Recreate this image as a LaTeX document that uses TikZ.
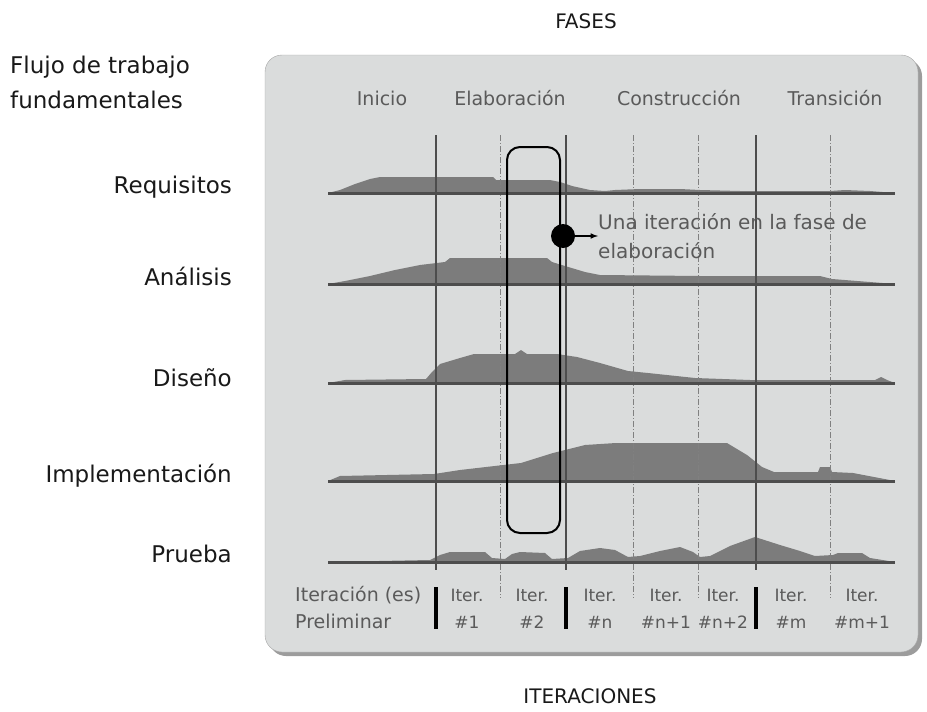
\documentclass[tikz,border=0pt]{standalone}
\usepackage{fontspec}
\setmainfont{DejaVu Sans}
\usepackage{xcolor}

\definecolor{panelgray}{HTML}{DADCDC}
\definecolor{shadowgray}{HTML}{9C9C9C}
\definecolor{hillgray}{HTML}{7C7C7C}
\definecolor{linegray}{HTML}{4D4D4D}
\definecolor{textgray}{HTML}{5A5A5A}

\begin{document}
\begin{tikzpicture}[x=1pt,y=-1pt,
  heading/.style={font=\fontsize{20}{24}\selectfont, text=black!90, inner sep=0pt, anchor=base},
  lbl/.style={font=\fontsize{23}{27}\selectfont, text=black!90, inner sep=0pt, anchor=base east},
  phase/.style={font=\fontsize{19}{23}\selectfont, text=textgray, inner sep=0pt, anchor=base},
  prelim/.style={font=\fontsize{19}{23}\selectfont, text=textgray, inner sep=0pt, anchor=base west},
  iterlbl/.style={font=\fontsize{17}{21}\selectfont, text=textgray, inner sep=0pt, anchor=base},
  note/.style={font=\fontsize{20}{29}\selectfont, text=textgray, inner sep=0pt, align=left},
  hill/.style={fill=hillgray},
  flow/.style={draw=linegray, line width=3pt},
  phaseline/.style={draw=linegray, line width=1.3pt},
  iterline/.style={draw=gray, line width=0.9pt, dash pattern=on 6pt off 2pt on 1pt off 2pt},
  bar/.style={line width=4pt}]
\useasboundingbox (0,0) rectangle (927,712);
% Panel
\fill[shadowgray, rounded corners=17pt] (269,59) rectangle (922,656);
\filldraw[fill=panelgray, draw=gray!70, rounded corners=17pt] (265,55) rectangle (918,652);
% Workflow hills
\fill[hill] (328,193) -- (340,190) -- (355,184) -- (370,179) -- (380,177) -- (493,177) -- (496,180)
  -- (550,180) -- (560,182) -- (572,186) -- (590,190) -- (605,191) -- (615,190) -- (640,189)
  -- (680,189) -- (700,190) -- (740,191) -- (830,191) -- (845,190) -- (870,191) -- (895,193) -- cycle;
\fill[hill] (328,284) -- (345,281) -- (370,276) -- (395,270) -- (420,265) -- (445,262) -- (450,258)
  -- (547,258) -- (552,262) -- (565,266) -- (585,272) -- (600,275) -- (700,276) -- (820,276)
  -- (832,279) -- (895,284) -- cycle;
\fill[hill] (328,383) -- (345,380) -- (426,379) -- (432,372) -- (440,364) -- (460,358) -- (474,354)
  -- (515,354) -- (521,350) -- (527,354) -- (557,354) -- (577,357) -- (600,363) -- (628,371)
  -- (648,373) -- (695,378) -- (750,380) -- (875,380) -- (881,377) -- (887,380) -- (895,383) -- cycle;
\fill[hill] (328,481) -- (340,476) -- (434,474) -- (460,470) -- (486,467) -- (521,463) -- (553,453)
  -- (585,445) -- (616,443) -- (727,443) -- (747,455) -- (762,467) -- (774,472) -- (818,472)
  -- (820,467) -- (830,467) -- (832,472) -- (853,473) -- (895,481) -- cycle;
\fill[hill] (328,562) -- (430,560) -- (440,555) -- (450,552) -- (485,552) -- (492,558) -- (505,559)
  -- (512,554) -- (520,552) -- (545,553) -- (552,559) -- (568,558) -- (580,551) -- (600,548)
  -- (615,550) -- (628,557) -- (640,556) -- (660,551) -- (680,547) -- (693,552) -- (700,557)
  -- (710,556) -- (730,546) -- (755,537) -- (780,545) -- (800,551) -- (815,556) -- (833,555)
  -- (838,553) -- (862,553) -- (870,558) -- (895,562) -- cycle;
% Phase and iteration boundaries
\foreach \x in {436,566,756} {
  \draw[phaseline] (\x,135) -- (\x,570);
  \draw[bar] (\x,587) -- (\x,629);
}
\foreach \x in {500,633,698,830}
  \draw[iterline] (\x,135) -- (\x,598);
% Workflow lines
\foreach \y in {193,284,383,481,562}
  \draw[flow] (328,\y) -- (895,\y);
% One iteration
\draw[line width=2pt, rounded corners=13pt] (507,147) rectangle (560,533);
\node[circle, fill=black, inner sep=0pt, minimum size=24pt] (dot) at (563,236) {};
\node[note, anchor=north west] (note) at (598,213) {Una iteración en la fase de\\elaboración};
\draw[-latex, line width=1.5pt] (dot) -- (dot -| note.west);
% Titles
\node[heading] (fases) at (586,28) {FASES};
\node[heading] (iteraciones) at (590,703) {ITERACIONES};
\node[lbl, anchor=base west] (flujo) at (10,73) {Flujo de trabajo};
\node[lbl, anchor=base west] (fund) at (10,108) {fundamentales};
\foreach \y/\t [count=\i] in {193/Requisitos, 285/Análisis, 386/Diseño, 482/Implementación, 562/Prueba}
  \node[lbl] (flow\i) at (232,\y) {\t};
% Phases
\foreach \x/\t [count=\i] in {382/Inicio, 510/Elaboración, 679/Construcción, 835/Transición}
  \node[phase] (phase\i) at (\x,105) {\t};
% Iterations
\node[prelim] (prelim1) at (295,601) {Iteración (es)};
\node[prelim] (prelim2) at (295,628) {Preliminar};
\foreach \x/\k [count=\i] in {467/1, 532/2, 600/n, 666/n+1, 723/n+2, 791/m, 862/m+1} {
  \node[iterlbl] (iter\i) at (\x,601) {Iter.};
  \node[iterlbl] (num\i) at (\x,628) {\#\k};
}
\end{tikzpicture}
\end{document}
